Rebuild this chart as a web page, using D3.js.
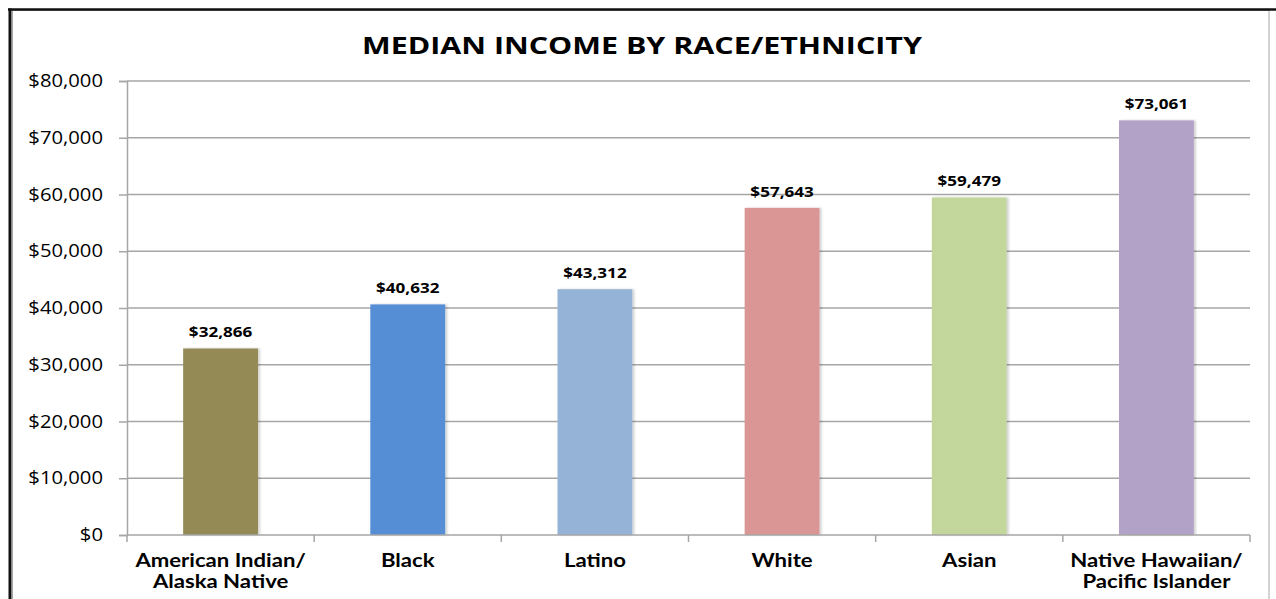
<!DOCTYPE html>
<html>
<head>
<meta charset="utf-8">
<script src="https://cdn.jsdelivr.net/npm/d3@7"></script>
<style>
  html, body { margin: 0; padding: 0; background: #fff; }
  svg { display: block; }
</style>
</head>
<body>
<svg id="chart" width="1276" height="599"></svg>
<script>
// Median income by race/ethnicity
const categories = [
  ["American Indian/", "Alaska Native"],
  ["Black"],
  ["Latino"],
  ["White"],
  ["Asian"],
  ["Native Hawaiian/", "Pacific Islander"]
];
const incomes = [32866, 40632, 43312, 57643, 59479, 73061];
const barColors = ["#948a54", "#558ed5", "#95b3d7", "#d99694", "#c3d69b", "#b3a2c7"];
const yTicks = [0, 10000, 20000, 30000, 40000, 50000, 60000, 70000, 80000];
const chartTitle = "MEDIAN INCOME BY RACE/ETHNICITY";

const W = 1276, H = 599;
const margin = { left: 127, right: 26, top: 81, bottom: 64 };
const svg = d3.select("#chart");
const font = "'Open Sans', Lato, 'DejaVu Sans', sans-serif";
const catFont = "Lato, 'Open Sans', 'DejaVu Sans', sans-serif";
const money = d => "$" + d3.format(",")(d);

// the chart's lettering is set a little wide
const stretch = { title: 1.3, value: 1.22, tick: 1.15, category: 1.23 };

svg.append("rect").attr("width", W).attr("height", H).attr("fill", "#fff");

// outer frame
svg.append("rect")
  .attr("x", 12.5).attr("y", 10.5)
  .attr("width", 1269 - 12.5).attr("height", H)
  .attr("fill", "none").attr("stroke", "#a6a6a6").attr("stroke-width", 1);
svg.append("line")
  .attr("x1", 8).attr("x2", W).attr("y1", 9.5).attr("y2", 9.5)
  .attr("stroke", "#111").attr("stroke-width", 2.5);
svg.append("line")
  .attr("x1", 10).attr("x2", 10).attr("y1", 8.5).attr("y2", H)
  .attr("stroke", "#111").attr("stroke-width", 3);

const x = d3.scaleBand()
  .domain(d3.range(categories.length))
  .range([margin.left, W - margin.right])
  .paddingInner(0.6).paddingOuter(0.3);
const xOuter = d3.scaleBand()
  .domain(d3.range(categories.length))
  .range([margin.left, W - margin.right]);
const y = d3.scaleLinear().domain([0, 80000]).range([H - margin.bottom, margin.top]);

// title
svg.append("text")
  .attr("transform", `translate(642,53.5) scale(${stretch.title},1)`)
  .attr("text-anchor", "middle")
  .attr("font-family", font).attr("font-weight", 700)
  .attr("font-size", 23.4).attr("fill", "#000")
  .text(chartTitle);

// y axis with gridlines
const yAxis = svg.append("g")
  .attr("transform", `translate(${margin.left},0)`)
  .call(d3.axisLeft(y).tickValues(yTicks)
    .tickSize(8).tickPadding(16)
    .tickFormat(money));
yAxis.select(".domain").attr("stroke", "#a6a6a6").attr("stroke-width", 1.5);
yAxis.selectAll(".tick line").attr("stroke", "#a6a6a6").attr("stroke-width", 1.5);
yAxis.selectAll(".tick text")
  .attr("x", -24 / stretch.tick)
  .attr("transform", `scale(${stretch.tick},1)`)
  .attr("font-family", font).attr("font-size", 17.6).attr("fill", "#000");

svg.append("g")
  .selectAll("line")
  .data(yTicks.filter(d => d > 0))
  .join("line")
  .attr("x1", margin.left).attr("x2", W - margin.right)
  .attr("y1", d => y(d)).attr("y2", d => y(d))
  .attr("stroke", "#a6a6a6").attr("stroke-width", 1.5);

// bars with a soft shadow
const defs = svg.append("defs");
const f = defs.append("filter").attr("id", "barShadow")
  .attr("x", "-10%").attr("y", "-10%").attr("width", "130%").attr("height", "120%");
f.append("feDropShadow").attr("dx", 2).attr("dy", 0).attr("stdDeviation", 1.2)
  .attr("flood-color", "#000").attr("flood-opacity", 0.18);

svg.append("g")
  .selectAll("rect")
  .data(incomes)
  .join("rect")
  .attr("x", (d, i) => x(i))
  .attr("y", d => y(d))
  .attr("width", x.bandwidth())
  .attr("height", d => y(0) - y(d))
  .attr("fill", (d, i) => barColors[i])
  .attr("filter", "url(#barShadow)");

// x axis baseline and category ticks
const xAxis = svg.append("g").attr("transform", `translate(0,${y(0)})`);
xAxis.append("line")
  .attr("x1", margin.left).attr("x2", W - margin.right)
  .attr("stroke", "#a6a6a6").attr("stroke-width", 1.5);
xAxis.selectAll("line.tk")
  .data(d3.range(categories.length + 1))
  .join("line").attr("class", "tk")
  .attr("x1", i => i < categories.length ? xOuter(i) : W - margin.right)
  .attr("x2", i => i < categories.length ? xOuter(i) : W - margin.right)
  .attr("y1", 0).attr("y2", 7)
  .attr("stroke", "#a6a6a6").attr("stroke-width", 1.5);

// value labels
svg.append("g")
  .selectAll("text")
  .data(incomes)
  .join("text")
  .attr("transform", (d, i) =>
    `translate(${x(i) + x.bandwidth() / 2},${y(d) - 11}) scale(${stretch.value},1)`)
  .attr("text-anchor", "middle")
  .attr("font-family", font).attr("font-weight", 700)
  .attr("font-size", 14).attr("fill", "#000")
  .text(money);

// category labels, one text per line
const catGroups = svg.append("g")
  .selectAll("g")
  .data(categories)
  .join("g")
  .attr("transform", (d, i) => `translate(${x(i) + x.bandwidth() / 2},0)`);
catGroups.selectAll("text")
  .data(d => d)
  .join("text")
  .attr("transform", (d, j) => `translate(0,${566.5 + j * 21.8}) scale(${stretch.category},1)`)
  .attr("text-anchor", "middle")
  .attr("font-family", catFont).attr("font-weight", 700)
  .attr("font-size", 18).attr("fill", "#000")
  .text(d => d);
</script>
</body>
</html>
